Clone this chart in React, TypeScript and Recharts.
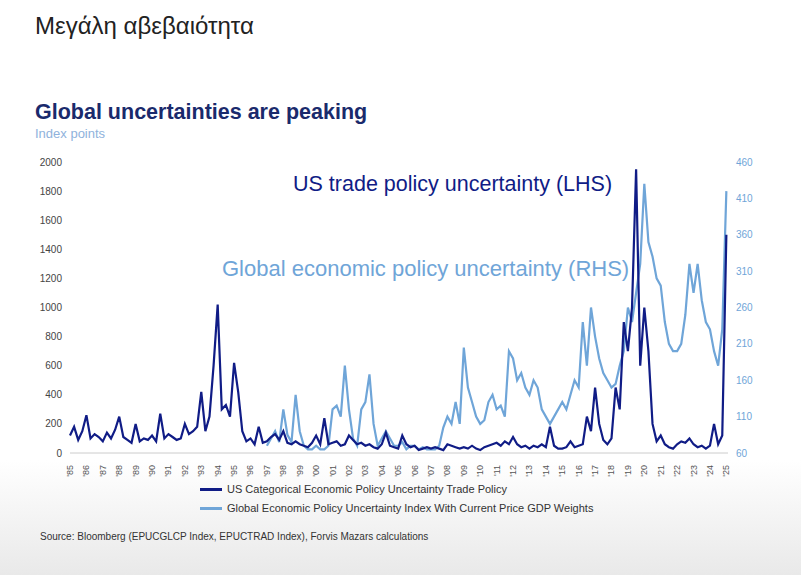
import { LineChart, Line, XAxis, YAxis } from 'recharts';

// quarterly values, 1985Q1 .. 2025Q1
const usTrade = [
  120, 180, 90, 150, 260, 100, 130, 110, 80, 140, 100, 160, 250, 110, 90, 70,
  200, 80, 100, 90, 120, 80, 270, 100, 130, 110, 90, 100, 200, 130, 150, 180,
  420, 150, 250, 600, 1020, 300, 330, 250, 620, 420, 150, 80, 100, 60, 180, 70,
  80, 110, 130, 90, 150, 70, 60, 80, 60, 50, 40, 70, 120, 60, 240, 60,
  70, 80, 50, 60, 120, 90, 60, 70, 50, 60, 40, 30, 60, 140, 50, 40,
  30, 120, 60, 40, 50, 20, 30, 40, 30, 40, 30, 20, 60, 50, 40, 30,
  40, 30, 50, 30, 20, 40, 50, 60, 70, 50, 80, 60, 110, 60, 40, 50,
  30, 50, 40, 60, 40, 180, 50, 30, 30, 40, 80, 40, 50, 60, 250, 150,
  450, 200, 90, 60, 100, 450, 300, 900, 700, 1000, 1950, 600, 1000, 700, 200, 80,
  120, 60, 40, 30, 60, 80, 70, 100, 60, 40, 50, 30, 50, 200, 60, 120,
  1500,
];

// quarterly values, 1997Q1 .. 2025Q1
const globalEpu = [
  70, 80, 90, 75, 120, 85, 75, 140, 90, 70, 65, 65, 70, 65, 65, 70,
  120, 125, 110, 180, 120, 80, 70, 120, 130, 168, 100, 70, 80, 90, 80, 70,
  70, 75, 65, 70, 70, 65, 68, 65, 65, 65, 70, 95, 110, 100, 130, 100,
  205, 150, 130, 110, 100, 105, 130, 140, 120, 125, 110, 200, 190, 160, 170, 150,
  140, 160, 150, 120, 110, 100, 110, 120, 130, 120, 140, 160, 150, 240, 180, 260,
  220, 190, 170, 160, 150, 155, 180, 200, 260, 240, 280, 320, 430, 350, 330, 300,
  290, 240, 210, 200, 200, 210, 250, 320, 280, 320, 270, 240, 230, 200, 180, 230,
  420,
];

const years = Array.from({ length: 41 }, (_, i) => 1985 + i);
const leftTicks = [0, 200, 400, 600, 800, 1000, 1200, 1400, 1600, 1800, 2000];
const rightTicks = [60, 110, 160, 210, 260, 310, 360, 410, 460];

const data = usTrade.map((v, i) => {
  const g = i - 48;
  return { t: 1985 + i / 4, us: v, gl: g >= 0 ? globalEpu[g] : null };
});

const DARK = '#101c86';
const LIGHT = '#6fa5d8';
const FONT = 'Arial, "Liberation Sans", sans-serif';

const YearTick = ({ x, y, payload }: any) => (
  <text x={x} y={y + 4} transform={`rotate(-90 ${x} ${y + 4})`} textAnchor="end" dominantBaseline="central" fontSize={9} fill="#555">
    {"'" + String(payload.value).slice(2)}
  </text>
);

export default function App() {
  return (
    <div style={{ position: 'fixed', left: 0, top: 0, width: 801, height: 575, fontFamily: FONT, background: 'linear-gradient(#ffffff 0%, #ffffff 80%, #e9e9e9 100%)' }}>
      <div style={{ position: 'absolute', left: 35, top: 12, fontSize: 24, fontWeight: 500, color: '#222' }}>Μεγάλη αβεβαιότητα</div>
      <div style={{ position: 'absolute', left: 35, top: 100, fontSize: 21.5, fontWeight: 'bold', color: '#1a2a6c' }}>Global uncertainties are peaking</div>
      <div style={{ position: 'absolute', left: 35, top: 126, fontSize: 13, color: '#8fb2dc' }}>Index points</div>
      <LineChart width={801} height={575} data={data} margin={{ top: 162, right: 33, bottom: 92, left: 30 }} style={{ position: 'absolute', left: 0, top: 0 }}>
        <XAxis dataKey="t" type="number" domain={[1985, 2025.1]} ticks={years} interval={0} tick={<YearTick />} tickLine={false} axisLine={{ stroke: '#ccc' }} height={30} />
        <YAxis yAxisId="l" domain={[0, 2000]} ticks={leftTicks} width={40} axisLine={false} tickLine={false} tick={{ fontSize: 10, fill: '#444' }} />
        <YAxis yAxisId="r" orientation="right" domain={[60, 460]} ticks={rightTicks} width={40} axisLine={false} tickLine={false} tick={{ fontSize: 10, fill: LIGHT }} />
        <Line yAxisId="r" dataKey="gl" stroke={LIGHT} strokeWidth={2.2} dot={false} isAnimationActive={false} connectNulls={false} />
        <Line yAxisId="l" dataKey="us" stroke={DARK} strokeWidth={2.2} dot={false} isAnimationActive={false} />
      </LineChart>
      <div style={{ position: 'absolute', left: 293, top: 172, fontSize: 21.5, color: DARK }}>US trade policy uncertainty (LHS)</div>
      <div style={{ position: 'absolute', left: 222, top: 256, fontSize: 22, color: LIGHT }}>Global economic policy uncertainty (RHS)</div>
      <div style={{ position: 'absolute', left: 200, top: 483, fontSize: 11, color: '#333', display: 'flex', alignItems: 'center' }}>
        <span style={{ width: 22, height: 3, background: DARK, marginRight: 5 }} />US Categorical Economic Policy Uncertainty Trade Policy
      </div>
      <div style={{ position: 'absolute', left: 200, top: 502, fontSize: 11, color: '#333', display: 'flex', alignItems: 'center' }}>
        <span style={{ width: 22, height: 3, background: LIGHT, marginRight: 5 }} />Global Economic Policy Uncertainty Index With Current Price GDP Weights
      </div>
      <div style={{ position: 'absolute', left: 40, top: 531, fontSize: 10, color: '#333' }}>Source: Bloomberg (EPUCGLCP Index, EPUCTRAD Index), Forvis Mazars calculations</div>
    </div>
  );
}
